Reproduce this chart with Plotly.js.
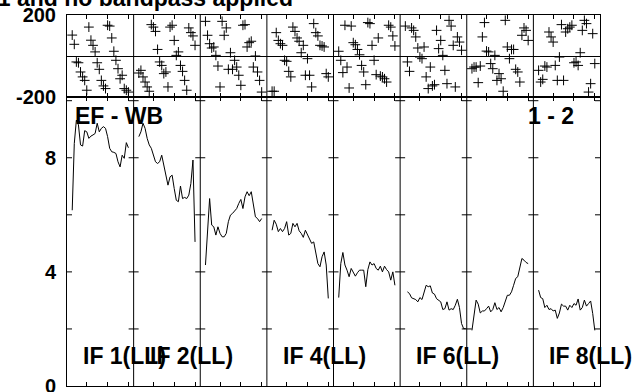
<!DOCTYPE html>
<html>
<head>
<meta charset="utf-8">
<script src="https://cdn.plot.ly/plotly-3.0.1.min.js"></script>
<style>html,body{margin:0;padding:0;background:#fff;}#chart{width:636px;height:392px;}</style>
</head>
<body>
<div id="chart"></div>
<script>
// ---- data ----
var chanPerIF = 32;
var ifNumbers = [1, 2, 3, 4, 5, 6, 7, 8];
var ampStartChan = [3, 3, 3, 3, 3, 4, 3, 3];
var phaseStartChan = [3, 3, 3, 3, 3, 3, 3, 3];
var xTickChans = [10, 20, 30];
var labelledIFs = [1, 2, 4, 6, 8];
var polLabel = "LL";
var baselineLabel = "EF - WB";
var sourceLabel = "1 - 2";
var titleText = "Calibrated with CL table 1 and no bandpass applied";
var ampTickVals = [0, 4, 8];
var ampTickText = ["0", "4", "8"];
var ampMinorTicks = [2, 4, 6, 8, 10];
var phaseTickVals = [-200, 200];
var phaseTickText = ["-200", "200"];

var amp1 = [6.16, 8.50, 9.32, 9.15, 8.45, 8.41, 8.95, 8.91, 8.68, 8.76, 8.80, 8.85, 9.21, 8.91, 9.03, 9.09, 9.03, 8.74, 8.33, 8.21, 8.19, 8.15, 7.86, 7.68, 8.09, 7.98, 8.53, 8.35];
var amp2 = [8.74, 8.91, 9.21, 9.03, 8.68, 8.45, 8.33, 8.09, 7.86, 7.80, 7.86, 8.09, 7.74, 7.39, 7.04, 7.33, 7.39, 6.92, 6.51, 6.46, 7.01, 6.57, 6.61, 6.57, 6.69, 7.10, 7.92, 5.05];
var amp3 = [4.24, 5.46, 6.57, 5.64, 5.58, 5.29, 5.58, 5.35, 5.23, 5.23, 5.35, 5.76, 5.99, 6.05, 6.13, 6.22, 6.40, 6.54, 6.22, 6.63, 6.81, 6.67, 6.81, 6.40, 5.93, 5.87, 5.76, 5.87];
var amp4 = [5.46, 5.81, 5.67, 5.41, 5.52, 5.41, 5.52, 5.76, 5.29, 5.35, 5.70, 5.58, 5.70, 5.44, 5.35, 5.21, 5.46, 5.29, 5.11, 5.00, 5.05, 4.59, 4.29, 4.18, 4.53, 4.70, 4.24, 3.07];
var amp5 = [3.10, 4.29, 4.68, 4.24, 4.06, 3.83, 4.12, 4.00, 3.85, 3.97, 4.06, 4.06, 4.06, 3.48, 4.08, 4.35, 4.24, 4.29, 4.12, 4.06, 4.20, 4.00, 4.20, 4.08, 4.00, 3.71, 4.00, 3.53];
var amp6 = [3.30, 3.24, 3.09, 3.06, 3.03, 2.95, 3.10, 3.03, 3.30, 3.53, 3.48, 3.51, 3.26, 3.22, 3.06, 3.01, 2.95, 2.68, 2.71, 2.95, 2.66, 2.71, 2.68, 2.83, 3.04, 2.75, 2.19, 2.01, 2.01];
var amp7 = [1.95, 2.50, 3.01, 2.87, 2.56, 2.63, 2.63, 2.71, 2.80, 2.60, 2.68, 2.92, 2.68, 2.75, 2.60, 2.75, 3.01, 3.18, 3.18, 3.30, 3.53, 3.77, 3.83, 4.12, 4.47, 4.41, 4.33, 4.29];
var amp8 = [3.36, 3.10, 3.06, 2.75, 2.83, 2.68, 2.71, 2.63, 2.66, 2.37, 2.56, 2.87, 2.80, 2.80, 2.66, 2.83, 2.75, 2.89, 2.83, 3.05, 2.66, 2.75, 3.01, 2.80, 2.89, 2.98, 2.54, 1.95];

var ph1 = [102, 57, -29, -33, -78, -102, -119, -167, 141, 77, 52, 20, -33, -65, -119, -146, -159, 150, 146, 88, 23, -21, -62, -111, -94, -159, -167, -176];
var ph2 = [-83, -70, -102, -127, -151, -172, 153, 141, 120, 32, -29, -46, -86, -78, -151, 141, 150, 76, 3, 20, -46, -75, -119, -167, 137, 114, 98, 52];
var ph3 = [169, 101, 60, 39, 44, 3, -49, -151, 169, 101, 137, -65, 16, -65, -21, -54, -94, -143, 150, 153, 44, 65, 72, -54, 0, -78, -119, -176];
var ph4 = [-172, -172, 114, 76, 60, 52, -21, -26, -75, -102, 141, 120, 88, 72, 16, 52, -94, -13, -94, -151, 158, 114, 98, 52, 49, 44, -86, -102];
var ph5 = [23, -21, -81, 150, -54, -156, 146, 65, 55, 32, 6, -46, -78, -140, 163, 158, 52, -21, -91, 88, -98, -102, -111, -127, 150, 141, 98, 49];
var ph6 = [146, -29, -75, 137, 125, 93, 39, -5, -13, 44, -102, -159, -54, -146, -140, 125, 36, 76, 3, -70, -135, 174, 146, 52, -151, 93, 68, 28];
var ph7 = [-62, -54, -54, -130, -49, 93, 163, 24, 20, -37, -62, 3, -119, -86, -111, -172, 174, 44, -13, 32, 32, -65, -78, -127, 101, 137, 125, 76];
var ph8 = [-70, -127, -114, -49, -54, 117, 93, 68, -46, -119, -5, 153, -119, 117, 133, 141, 150, -33, -29, -46, 16, 125, 174, 158, -176, -135, 109, -37];

var ampSeries = [amp1, amp2, amp3, amp4, amp5, amp6, amp7, amp8];
var phaseSeries = [ph1, ph2, ph3, ph4, ph5, ph6, ph7, ph8];

// ---- build ----
var FONT = 'Liberation Sans, Arial, Helvetica, sans-serif';
var nIF = ifNumbers.length;
function ifOffset(i) { return i * chanPerIF; }
function chanAxis(i, start, n) {
  var xs = [];
  for (var j = 0; j < n; j++) xs.push(ifOffset(i) + start + j);
  return xs;
}

var traces = [];
for (var i = 0; i < nIF; i++) {
  traces.push({
    type: 'scatter', mode: 'lines', xaxis: 'x', yaxis: 'y',
    x: chanAxis(i, ampStartChan[i], ampSeries[i].length), y: ampSeries[i],
    line: {color: '#000', width: 1}, hoverinfo: 'skip', showlegend: false
  });
  traces.push({
    type: 'scatter', mode: 'markers', xaxis: 'x2', yaxis: 'y2',
    x: chanAxis(i, phaseStartChan[i], phaseSeries[i].length), y: phaseSeries[i],
    marker: {symbol: 'cross-thin', size: 7, line: {color: '#000', width: 1}},
    hoverinfo: 'skip', showlegend: false
  });
}

var xMax = nIF * chanPerIF + 0.5;
var xTicks = [];
for (var i = 0; i < nIF; i++) xTickChans.forEach(function (c) { xTicks.push(ifOffset(i) + c); });

var shapes = [];
for (var k = 0; k <= nIF; k++) {
  var bx = ifOffset(k) + 0.5;
  if (k > 0 && k < nIF) {
    shapes.push({type: 'line', xref: 'x', yref: 'paper', x0: bx, x1: bx, y0: 0, y1: 1,
      line: {color: '#000', width: 1}, layer: 'above'});
  }
  ampMinorTicks.forEach(function (v) {
    shapes.push({type: 'line', xref: 'x', yref: 'y', xsizemode: 'pixel', xanchor: bx,
      x0: k === 0 ? 0 : -5, x1: k === nIF ? 0 : 5, y0: v, y1: v,
      line: {color: '#000', width: 1}, layer: 'above'});
  });
}

var annotations = [
  {text: baselineLabel, xref: 'paper', yref: 'paper', x: 0.0113, y: 0.728, xanchor: 'left', yanchor: 'middle',
   showarrow: false, font: {family: FONT, size: 23, color: '#000', weight: 'bold'}},
  {text: sourceLabel, xref: 'paper', yref: 'paper', x: 0.861, y: 0.728, xanchor: 'left', yanchor: 'middle',
   showarrow: false, font: {family: FONT, size: 23, color: '#000', weight: 'bold'}}
];
labelledIFs.forEach(function (n) {
  annotations.push({text: 'IF ' + n + '(' + polLabel + ')', xref: 'x', yref: 'y',
    x: ifOffset(n - 1) + 0.5, xshift: 14, y: 1.04, xanchor: 'left', yanchor: 'middle',
    showarrow: false, font: {family: FONT, size: 23, color: '#000', weight: 'bold'}});
});

var tickFont = {family: FONT, size: 20, color: '#000', weight: 'bold'};
var layout = {
  width: 636, height: 392,
  margin: {l: 67, r: 36, t: 15, b: 6},
  paper_bgcolor: '#fff', plot_bgcolor: '#fff',
  showlegend: false,
  title: {text: titleText, xref: 'container', yref: 'container', x: 0.4607, xanchor: 'right',
          y: 0.986, yanchor: 'bottom', font: {family: FONT, size: 23, color: '#000', weight: 'bold'}},
  xaxis: {domain: [0, 1], range: [0.5, xMax], anchor: 'y', showline: true, mirror: 'ticks',
          linecolor: '#000', linewidth: 1, ticks: 'inside', ticklen: 4, tickcolor: '#000',
          tickmode: 'array', tickvals: xTicks, showticklabels: false, showgrid: false, zeroline: false},
  xaxis2: {domain: [0, 1], range: [0.5, xMax], anchor: 'y2', matches: 'x', showline: true, mirror: 'ticks',
           linecolor: '#000', linewidth: 1, ticks: 'inside', ticklen: 4, tickcolor: '#000',
           tickmode: 'array', tickvals: xTicks, showticklabels: false, showgrid: false, zeroline: false},
  yaxis: {domain: [0, 0.779], range: [0, 10.13], anchor: 'x', showline: true, mirror: true,
          linecolor: '#000', linewidth: 1, ticks: '', tickmode: 'array', tickvals: ampTickVals,
          ticktext: ampTickText, ticklabeloverflow: 'allow',
          showgrid: false, zeroline: false, tickfont: tickFont, ticklabelstandoff: 6},
  yaxis2: {domain: [0.779, 1], range: [-200, 200], anchor: 'x2', showline: true, mirror: true,
           linecolor: '#000', linewidth: 1, ticks: '', tickmode: 'array', tickvals: phaseTickVals,
           ticktext: phaseTickText, ticklabeloverflow: 'allow',
           showgrid: false, zeroline: true, zerolinecolor: '#000', zerolinewidth: 1,
           tickfont: tickFont, ticklabelstandoff: 6},
  shapes: shapes,
  annotations: annotations
};

Plotly.newPlot('chart', traces, layout, {displayModeBar: false, staticPlot: true});
</script>
</body>
</html>
